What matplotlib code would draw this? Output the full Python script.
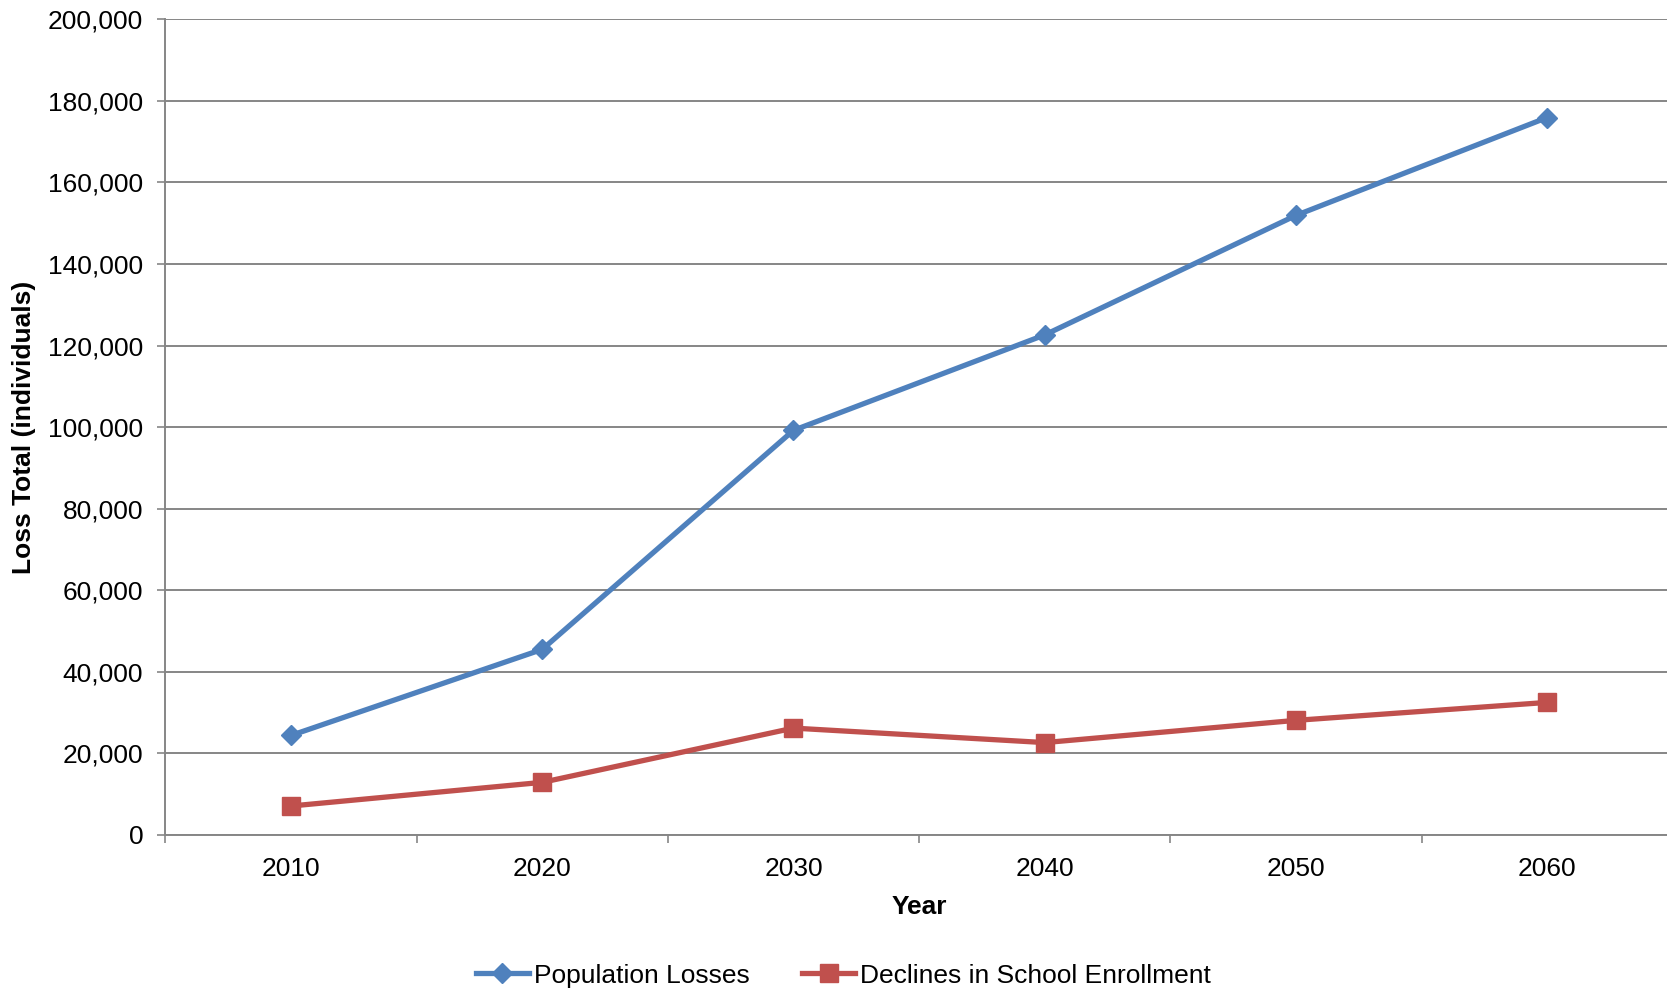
import matplotlib
matplotlib.use("Agg")
import matplotlib.pyplot as plt
from matplotlib.ticker import FuncFormatter, FixedLocator

plt.rcParams['font.family'] = ['Liberation Sans', 'DejaVu Sans']

years = ["2010", "2020", "2030", "2040", "2050", "2060"]
population_losses = [24400, 45500, 99200, 122600, 151900, 175900]
school_declines = [7100, 12900, 26200, 22650, 28100, 32500]
y_ticks = [0, 20000, 40000, 60000, 80000, 100000, 120000, 140000, 160000, 180000, 200000]

grey = "#868686"
blue = "#4F81BD"
red = "#C0504D"

fig = plt.figure(figsize=(16.67, 9.9), dpi=100)
ax = fig.add_axes([0.0992, 0.1566, 0.9043, 0.824])

x = list(range(len(years)))
ax.plot(x, population_losses, color=blue, lw=3.8, marker="D", ms=10.5,
        label="Population Losses", zorder=3)
ax.plot(x, school_declines, color=red, lw=3.8, marker="s", ms=12.5,
        label="Declines in School Enrollment", zorder=3)

ax.set_xlim(-0.5, len(years) - 0.5)
ax.set_ylim(0, 200000)
ax.set_yticks(y_ticks)
ax.yaxis.set_major_formatter(FuncFormatter(lambda v, p: f"{int(v):,}"))
ax.set_xticks(x)
ax.set_xticklabels(years)
ax.xaxis.set_minor_locator(FixedLocator([i - 0.5 for i in range(len(years) + 1)]))

ax.grid(axis="y", color=grey, lw=1.4)
ax.set_axisbelow(True)
for s in ["top", "right"]:
    ax.spines[s].set_visible(False)
for s in ["left", "bottom"]:
    ax.spines[s].set_color(grey)
    ax.spines[s].set_linewidth(1.4)

ax.tick_params(axis="y", length=5.5, width=1.2, color=grey, pad=10.5, labelsize=19)
ax.tick_params(axis="x", which="major", length=0, pad=16, labelsize=19)
ax.tick_params(axis="x", which="minor", length=5.5, width=1.2, color=grey)

ax.set_xlabel("Year", fontsize=19, fontweight="bold")
ax.xaxis.set_label_coords(0.5, -0.088)
ax.xaxis.label.set_va("center")
ax.set_ylabel("Loss Total (individuals)", fontsize=19, fontweight="bold")
ax.yaxis.set_label_coords(-0.094, 0.5)
ax.yaxis.label.set_va("center")

fig.legend(loc="center", bbox_to_anchor=(0.506, 0.0145), ncol=2, frameon=False,
           fontsize=19, handlelength=2.0, handletextpad=0.2, columnspacing=2.0)

fig.savefig("out.png", dpi=100)
